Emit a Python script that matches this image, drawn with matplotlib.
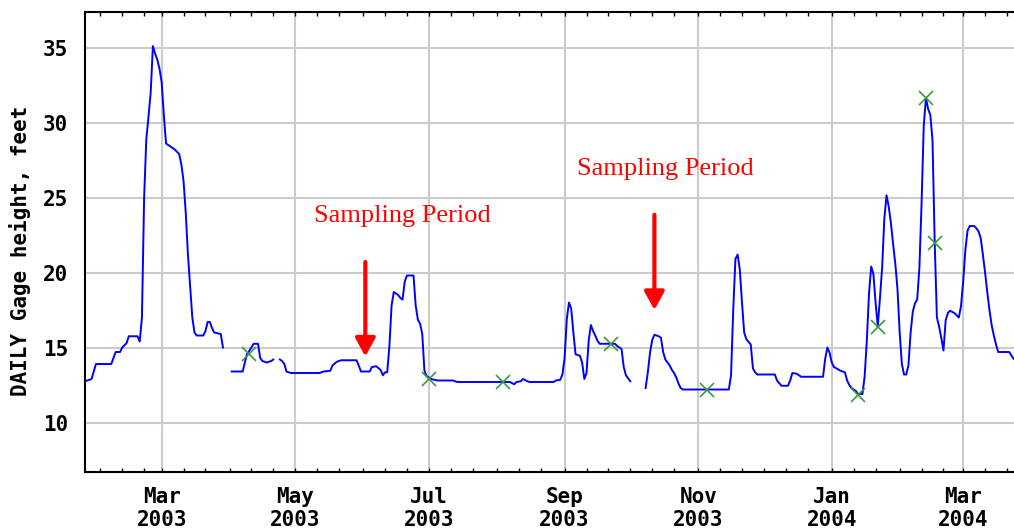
import numpy as np
import pandas as pd
import matplotlib
matplotlib.use('Agg')
import matplotlib.pyplot as plt
import matplotlib.dates as mdates

# daily gage height (nan = gap in record)
dates = [
    '2003-01-25', '2003-01-28', '2003-01-29', '2003-01-30', '2003-02-06', '2003-02-07',
    '2003-02-08', '2003-02-10', '2003-02-11', '2003-02-13', '2003-02-14', '2003-02-18',
    '2003-02-19', '2003-02-20', '2003-02-21', '2003-02-22', '2003-02-23', '2003-02-24',
    '2003-02-25', '2003-02-26', '2003-02-27', '2003-02-28', '2003-03-01', '2003-03-02',
    '2003-03-03', '2003-03-05', '2003-03-07', '2003-03-09', '2003-03-10', '2003-03-11',
    '2003-03-12', '2003-03-13', '2003-03-14', '2003-03-15', '2003-03-16', '2003-03-17',
    '2003-03-20', '2003-03-21', '2003-03-22', '2003-03-23', '2003-03-24', '2003-03-25',
    '2003-03-28', '2003-03-29', '2003-03-31',
    '2003-04-02', '2003-04-07', '2003-04-08', '2003-04-09', '2003-04-11', '2003-04-12',
    '2003-04-14', '2003-04-15', '2003-04-16', '2003-04-18', '2003-04-20', '2003-04-21',
    '2003-04-22',
    '2003-04-24', '2003-04-25', '2003-04-26', '2003-04-27', '2003-04-29', '2003-05-12',
    '2003-05-14', '2003-05-17', '2003-05-18', '2003-05-20', '2003-05-22', '2003-05-29',
    '2003-05-30', '2003-05-31', '2003-06-04', '2003-06-05', '2003-06-07', '2003-06-09',
    '2003-06-10', '2003-06-11', '2003-06-12', '2003-06-13', '2003-06-14', '2003-06-15',
    '2003-06-17', '2003-06-18', '2003-06-19', '2003-06-20', '2003-06-21', '2003-06-24',
    '2003-06-25', '2003-06-26', '2003-06-27', '2003-06-28', '2003-06-29', '2003-06-30',
    '2003-07-02', '2003-07-05', '2003-07-12', '2003-07-14', '2003-08-07', '2003-08-09',
    '2003-08-10', '2003-08-12', '2003-08-13', '2003-08-15', '2003-08-16', '2003-08-27',
    '2003-08-28', '2003-08-30', '2003-08-31', '2003-09-01', '2003-09-02', '2003-09-03',
    '2003-09-04', '2003-09-05', '2003-09-06', '2003-09-08', '2003-09-09', '2003-09-10',
    '2003-09-11', '2003-09-12', '2003-09-13', '2003-09-14', '2003-09-15', '2003-09-16',
    '2003-09-17', '2003-09-24', '2003-09-25', '2003-09-27', '2003-09-28', '2003-09-29',
    '2003-09-30', '2003-10-01', '2003-10-04',
    '2003-10-08', '2003-10-09', '2003-10-10', '2003-10-11', '2003-10-12', '2003-10-14',
    '2003-10-15', '2003-10-16', '2003-10-17', '2003-10-19', '2003-10-20', '2003-10-21',
    '2003-10-22', '2003-10-23', '2003-10-24', '2003-10-25', '2003-11-15', '2003-11-16',
    '2003-11-17', '2003-11-18', '2003-11-19', '2003-11-20', '2003-11-21', '2003-11-22',
    '2003-11-23', '2003-11-25', '2003-11-26', '2003-11-27', '2003-11-28', '2003-12-06',
    '2003-12-07', '2003-12-09', '2003-12-12', '2003-12-13', '2003-12-14', '2003-12-16',
    '2003-12-18', '2003-12-28', '2003-12-29', '2003-12-30', '2003-12-31', '2004-01-01',
    '2004-01-02', '2004-01-05', '2004-01-07', '2004-01-08', '2004-01-09', '2004-01-10',
    '2004-01-11', '2004-01-12', '2004-01-13', '2004-01-15', '2004-01-16', '2004-01-17',
    '2004-01-18', '2004-01-19', '2004-01-20', '2004-01-21', '2004-01-22', '2004-01-23',
    '2004-01-24', '2004-01-25', '2004-01-26', '2004-01-27', '2004-01-28', '2004-01-29',
    '2004-01-30', '2004-01-31', '2004-02-01', '2004-02-02', '2004-02-03', '2004-02-04',
    '2004-02-05', '2004-02-06', '2004-02-07', '2004-02-08', '2004-02-09', '2004-02-10',
    '2004-02-11', '2004-02-12', '2004-02-13', '2004-02-14', '2004-02-15', '2004-02-16',
    '2004-02-17', '2004-02-18', '2004-02-19', '2004-02-20', '2004-02-21', '2004-02-22',
    '2004-02-23', '2004-02-24', '2004-02-26', '2004-02-28', '2004-02-29', '2004-03-01',
    '2004-03-02', '2004-03-03', '2004-03-04', '2004-03-06', '2004-03-07', '2004-03-08',
    '2004-03-09', '2004-03-10', '2004-03-11', '2004-03-12', '2004-03-13', '2004-03-14',
    '2004-03-15', '2004-03-16', '2004-03-17', '2004-03-22', '2004-03-24',
]
stage = [
    12.75, 12.9, 13.4, 13.9, 13.9, 14.3,
    14.7, 14.7, 15.0, 15.3, 15.75, 15.75,
    15.4, 17.0, 25.0, 28.9, 30.4, 32.0,
    35.1, 34.6, 34.2, 33.6, 32.7, 30.5,
    28.6, 28.4, 28.2, 27.9, 27.2, 26.1,
    24.0, 21.2, 19.1, 17.0, 16.0, 15.8,
    15.8, 16.1, 16.7, 16.7, 16.3, 16.0,
    15.9, 15.0, np.nan,
    13.4, 13.4, 14.0, 14.55, 15.0, 15.25,
    15.25, 14.3, 14.1, 14.0, 14.1, 14.2,
    np.nan,
    14.2, 14.1, 13.9, 13.4, 13.3, 13.3,
    13.4, 13.45, 13.8, 14.05, 14.15, 14.15,
    13.8, 13.4, 13.4, 13.7, 13.75, 13.5,
    13.15, 13.35, 13.35, 15.1, 17.8, 18.7,
    18.5, 18.3, 18.2, 19.4, 19.8, 19.8,
    17.8, 16.85, 16.6, 15.9, 13.45, 13.1,
    12.9, 12.8, 12.8, 12.7, 12.7, 12.55,
    12.7, 12.75, 12.9, 12.75, 12.7, 12.7,
    12.8, 12.85, 13.2, 14.3, 16.9, 18.0,
    17.6, 16.0, 14.55, 14.45, 14.0, 12.9,
    13.3, 15.45, 16.5, 16.1, 15.8, 15.45,
    15.25, 15.25, 15.1, 14.9, 13.7, 13.15,
    12.95, 12.75, np.nan,
    12.3, 13.35, 14.65, 15.5, 15.85, 15.75,
    15.65, 14.7, 14.2, 13.8, 13.5, 13.3,
    13.0, 12.6, 12.3, 12.2, 12.2, 13.15,
    17.5, 20.9, 21.2, 20.2, 18.0, 16.0,
    15.55, 15.2, 13.6, 13.35, 13.2, 13.2,
    12.8, 12.45, 12.45, 12.8, 13.3, 13.25,
    13.05, 13.05, 14.25, 15.0, 14.65, 14.0,
    13.7, 13.45, 13.35, 12.8, 12.5, 12.3,
    12.2, 12.1, 11.9, 11.9, 13.05, 15.45,
    18.6, 20.4, 19.9, 18.0, 16.4, 18.3,
    20.35, 23.6, 25.15, 24.4, 23.3, 21.9,
    20.6, 18.9, 16.0, 13.9, 13.2, 13.2,
    13.8, 16.0, 17.4, 17.95, 18.2, 20.3,
    24.6, 29.8, 31.65, 30.9, 30.5, 28.8,
    22.0, 17.0, 16.4, 15.65, 14.8, 16.8,
    17.3, 17.45, 17.3, 17.0, 17.75, 19.4,
    21.5, 22.8, 23.1, 23.1, 22.95, 22.75,
    22.3, 21.2, 20.0, 18.7, 17.5, 16.5,
    15.8, 15.2, 14.7, 14.7, 14.25,
]

# field measurements (green x)
sample_dates = ['2003-04-10', '2003-07-01', '2003-08-04', '2003-09-22', '2003-11-05',
                '2004-01-13', '2004-01-22', '2004-02-13', '2004-02-17']
sample_stage = [14.6, 12.9, 12.7, 15.25, 12.2, 11.85, 16.4, 31.65, 22.0]

mono = 'DejaVu Sans Mono'

fig = plt.figure(figsize=(10.14, 5.31), dpi=100)
ax = fig.add_axes([85 / 1014, 59 / 531, 929 / 1014, 460 / 531])

ax.plot(pd.to_datetime(dates), stage, color='#0000ff', lw=1.4, zorder=3)
ax.plot(pd.to_datetime(sample_dates), sample_stage, 'x', color='#3c9a3c',
        ms=10, mew=1.2, zorder=4)

ax.set_xlim(pd.Timestamp('2003-01-25'), pd.Timestamp('2004-03-24 05:00'))
ax.set_ylim(6.7, 37.37)

ax.xaxis.set_major_locator(mdates.MonthLocator(bymonth=[1, 3, 5, 7, 9, 11]))
ax.xaxis.set_major_formatter(mdates.DateFormatter('%b\n%Y'))
ax.xaxis.set_minor_locator(mdates.DayLocator(bymonthday=[1, 11, 21]))
ax.set_yticks([10, 15, 20, 25, 30, 35])

ax.grid(True, which='major', color='#cccccc', lw=1.5, zorder=0)
ax.set_axisbelow(True)

ax.tick_params(axis='x', which='both', direction='in', top=True, length=3,
               width=1, pad=11)
ax.tick_params(axis='y', length=0, pad=12)
for lab in ax.get_xticklabels() + ax.get_yticklabels():
    lab.set_fontfamily(mono)
    lab.set_fontweight('bold')
    lab.set_fontsize(15)

for side in ['left', 'top', 'bottom']:
    ax.spines[side].set_linewidth(1.5)
ax.spines['right'].set_visible(False)

ax.set_ylabel('DAILY Gage height, feet', fontfamily=mono, fontweight='bold',
              fontsize=15)
ax.yaxis.set_label_coords(-0.058, 0.48)

# sampling period annotations
arrow = dict(arrowstyle='-|>,head_length=0.55,head_width=0.3', color='red',
             lw=3, mutation_scale=20, shrinkA=0, shrinkB=0)
ax.annotate('', xy=(pd.Timestamp('2003-06-02'), 14.4),
            xytext=(pd.Timestamp('2003-06-02'), 20.7), arrowprops=arrow)
ax.annotate('', xy=(pd.Timestamp('2003-10-12'), 17.5),
            xytext=(pd.Timestamp('2003-10-12'), 23.85), arrowprops=arrow)
ax.text(pd.Timestamp('2003-06-19'), 23.76, 'Sampling Period', color='red',
        fontfamily='Liberation Serif', fontsize=19, ha='center', va='center')
ax.text(pd.Timestamp('2003-10-17'), 26.9, 'Sampling Period', color='red',
        fontfamily='Liberation Serif', fontsize=19, ha='center', va='center')

fig.savefig('out.png', dpi=100, facecolor='white')
